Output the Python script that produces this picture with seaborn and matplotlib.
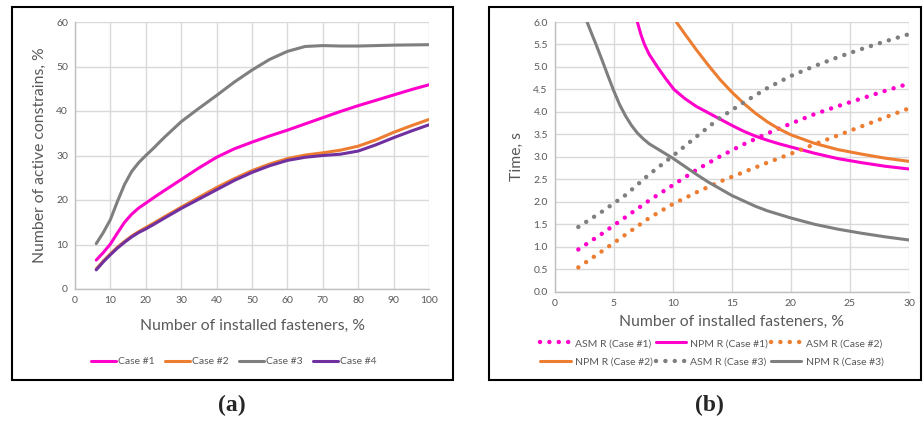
import matplotlib
matplotlib.use("Agg")
import matplotlib.pyplot as plt
import numpy as np
import pandas as pd
import seaborn as sns
from matplotlib.patches import Rectangle

# ---------------- panel (a): active constraints ----------------
fasteners_a = [6, 8, 10, 12, 14, 16, 18, 20, 22, 25, 30, 35, 40, 45, 50, 55, 60, 65, 70, 75, 80, 85, 90, 95, 100]
case1 = [6.5, 8.2, 10.1, 12.6, 15.0, 16.8, 18.2, 19.3, 20.4, 22.0, 24.6, 27.2, 29.6, 31.5, 33.0, 34.4, 35.7, 37.1, 38.5, 39.9, 41.2, 42.4, 43.6, 44.8, 45.9]
case2 = [4.5, 6.3, 7.9, 9.4, 10.7, 11.9, 12.9, 13.8, 14.7, 16.1, 18.4, 20.6, 22.8, 24.8, 26.6, 28.1, 29.3, 30.1, 30.6, 31.2, 32.1, 33.5, 35.2, 36.7, 38.1]
case3 = [10.2, 12.7, 15.6, 19.7, 23.5, 26.4, 28.4, 30.0, 31.5, 33.9, 37.6, 40.6, 43.5, 46.5, 49.2, 51.6, 53.4, 54.5, 54.7, 54.6, 54.6, 54.7, 54.8, 54.85, 54.9]
case4 = [4.3, 6.1, 7.7, 9.2, 10.5, 11.7, 12.7, 13.5, 14.4, 15.8, 18.1, 20.2, 22.3, 24.4, 26.2, 27.7, 28.9, 29.6, 30.0, 30.3, 31.0, 32.4, 34.0, 35.5, 36.9]
cases_a = ["Case #1", "Case #2", "Case #3", "Case #4"]
colors_a = ["#FF00CC", "#ED7D31", "#7F7F7F", "#7030A0"]
xticks_a = list(range(0, 101, 10))
yticks_a = list(range(0, 61, 10))

# ---------------- panel (b): computation time ----------------
asm_x = [2, 4, 6, 8, 10, 12, 14, 16, 18, 20, 22, 24, 26, 28, 30]
asm_case1 = [0.94, 1.29, 1.66, 2.03, 2.37, 2.71, 3.01, 3.28, 3.52, 3.74, 3.95, 4.13, 4.30, 4.47, 4.63]
asm_case2 = [0.54, 0.90, 1.27, 1.64, 1.95, 2.21, 2.45, 2.66, 2.87, 3.07, 3.28, 3.48, 3.68, 3.88, 4.08]
asm_case3 = [1.44, 1.78, 2.15, 2.61, 3.02, 3.45, 3.87, 4.21, 4.53, 4.80, 5.02, 5.22, 5.40, 5.57, 5.73]

npm1_x = [7.0, 7.3, 7.6, 8.0, 8.7, 9.4, 10.1, 11, 12, 13, 14, 15, 16, 17, 18, 19, 20, 22, 24, 26, 28, 30]
npm_case1 = [6.0, 5.72, 5.5, 5.28, 5.0, 4.74, 4.5, 4.3, 4.12, 3.98, 3.84, 3.70, 3.57, 3.46, 3.37, 3.29, 3.22, 3.08, 2.96, 2.87, 2.79, 2.73]
npm2_x = [10.3, 11, 12, 13, 14, 15, 16, 17, 18, 19, 20, 22, 24, 26, 28, 30]
npm_case2 = [6.0, 5.74, 5.38, 5.04, 4.72, 4.44, 4.19, 3.97, 3.78, 3.62, 3.49, 3.30, 3.16, 3.06, 2.97, 2.9]
npm3_x = [2.74, 3.1, 3.5, 4.0, 4.5, 5.0, 5.5, 6.0, 6.5, 7.0, 7.5, 8.0, 8.5, 9.0, 10, 11, 12, 13, 14, 15, 16, 17, 18, 20, 22, 24, 26, 28, 30]
npm_case3 = [6.0, 5.76, 5.5, 5.16, 4.81, 4.47, 4.16, 3.91, 3.70, 3.53, 3.40, 3.29, 3.21, 3.13, 2.97, 2.79, 2.61, 2.44, 2.29, 2.14, 2.02, 1.90, 1.80, 1.64, 1.50, 1.39, 1.30, 1.22, 1.15]

labels_b = ["ASM R (Case #1)", "NPM R (Case #1)", "ASM R (Case #2)",
            "NPM R (Case #2)", "ASM R (Case #3)", "NPM R (Case #3)"]
colors_b = ["#FF00CC", "#FF00CC", "#ED7D31", "#ED7D31", "#7F7F7F", "#7F7F7F"]
xticks_b = list(range(0, 31, 5))
yticks_b = [i * 0.5 for i in range(13)]

# ---------------- styling ----------------
sns.set_theme(style="white")
plt.rcParams["font.family"] = ["Lato", "DejaVu Sans"]
TXT = "#595959"
GRID = "#D9D9D9"

fig = plt.figure(figsize=(9.24, 4.21), dpi=100)
ax_a = fig.add_axes([75 / 924, 1 - 289 / 421, (429 - 75) / 924, (289 - 22) / 421])
ax_b = fig.add_axes([554.7 / 924, 1 - 291.7 / 421, (909 - 554.7) / 924, (291.7 - 22) / 421])


def style_axes(ax):
    ax.grid(True, color=GRID, linewidth=1.0)
    ax.set_axisbelow(True)
    for side in ["top", "right"]:
        ax.spines[side].set_visible(False)
    for side in ["left", "bottom"]:
        ax.spines[side].set_color("#BFBFBF")
        ax.spines[side].set_linewidth(1.0)
    ax.tick_params(length=0, labelsize=7.5, labelcolor=TXT, pad=5)


# panel (a)
df_a = pd.DataFrame({
    "x": fasteners_a * 4,
    "y": case1 + case2 + case3 + case4,
    "case": np.repeat(cases_a, len(fasteners_a)),
})
for name, col in zip(cases_a, colors_a):
    sns.lineplot(data=df_a[df_a["case"] == name], x="x", y="y", color=col,
                 linewidth=2.2, ax=ax_a, label=name, solid_capstyle="round",
                 solid_joinstyle="round")
ax_a.set_xlim(0, 100)
ax_a.set_ylim(0, 60)
ax_a.set_xticks(xticks_a)
ax_a.set_yticks(yticks_a)
style_axes(ax_a)
ax_a.set_xlabel("Number of installed fasteners, %", fontsize=11.3, color=TXT, labelpad=10)
ax_a.set_ylabel("Number of active constrains, %", fontsize=11.3, color=TXT, labelpad=7)
if ax_a.get_legend() is not None:
    ax_a.get_legend().remove()
fig.legend(handles=ax_a.get_lines(), labels=cases_a, loc="center",
           bbox_to_anchor=(234 / 924, 1 - 361.7 / 421), ncol=4, frameon=False,
           fontsize=7.5, labelcolor=TXT, handlelength=2.4, handletextpad=0.2,
           columnspacing=1.0)

# panel (b)
dot = (0, (0.01, 2.1))
series_b = [
    (asm_x, asm_case1, dot, 3.2),
    (npm1_x, npm_case1, "-", 2.2),
    (asm_x, asm_case2, dot, 3.2),
    (npm2_x, npm_case2, "-", 2.2),
    (asm_x, asm_case3, dot, 3.2),
    (npm3_x, npm_case3, "-", 2.2),
]
for (xs, ys, ls, lw), lab, col in zip(series_b, labels_b, colors_b):
    sns.lineplot(x=xs, y=ys, color=col, linestyle=ls, linewidth=lw, ax=ax_b,
                 label=lab, dash_capstyle="round", solid_capstyle="round",
                 solid_joinstyle="round")
ax_b.set_xlim(0, 30)
ax_b.set_ylim(0, 6)
ax_b.set_xticks(xticks_b)
ax_b.set_yticks(yticks_b)
ax_b.set_yticklabels([f"{v:.1f}" for v in yticks_b])
style_axes(ax_b)
ax_b.set_xlabel("Number of installed fasteners, %", fontsize=11.3, color=TXT, labelpad=5)
ax_b.set_ylabel("Time, s", fontsize=11.3, color=TXT, labelpad=7)
if ax_b.get_legend() is not None:
    ax_b.get_legend().remove()
# legend fills column by column; order the handles so rows read left to right
lines_b = ax_b.get_lines()
order = [0, 3, 1, 4, 2, 5]
fig.legend(handles=[lines_b[i] for i in order], labels=[labels_b[i] for i in order],
           loc="center", bbox_to_anchor=(712 / 924, 1 - 352.8 / 421), ncol=3,
           frameon=False, fontsize=7.5, labelcolor=TXT, handlelength=2.9,
           handletextpad=0.4, columnspacing=0.3, labelspacing=0.9)

# outer frames and panel captions
for x0, x1 in [(12, 453), (489, 921)]:
    fig.add_artist(Rectangle((x0 / 924, 1 - 380 / 421), (x1 - x0) / 924, (380 - 7) / 421,
                             transform=fig.transFigure, fill=False,
                             edgecolor="black", linewidth=1.5))
fig.text(232 / 924, 1 - 405 / 421, "(a)", ha="center", va="center",
         fontsize=17, fontweight="bold", family=["Liberation Serif", "DejaVu Serif"])
fig.text(709 / 924, 1 - 405 / 421, "(b)", ha="center", va="center",
         fontsize=17, fontweight="bold", family=["Liberation Serif", "DejaVu Serif"])

fig.savefig("out.png", dpi=100, facecolor="white")
